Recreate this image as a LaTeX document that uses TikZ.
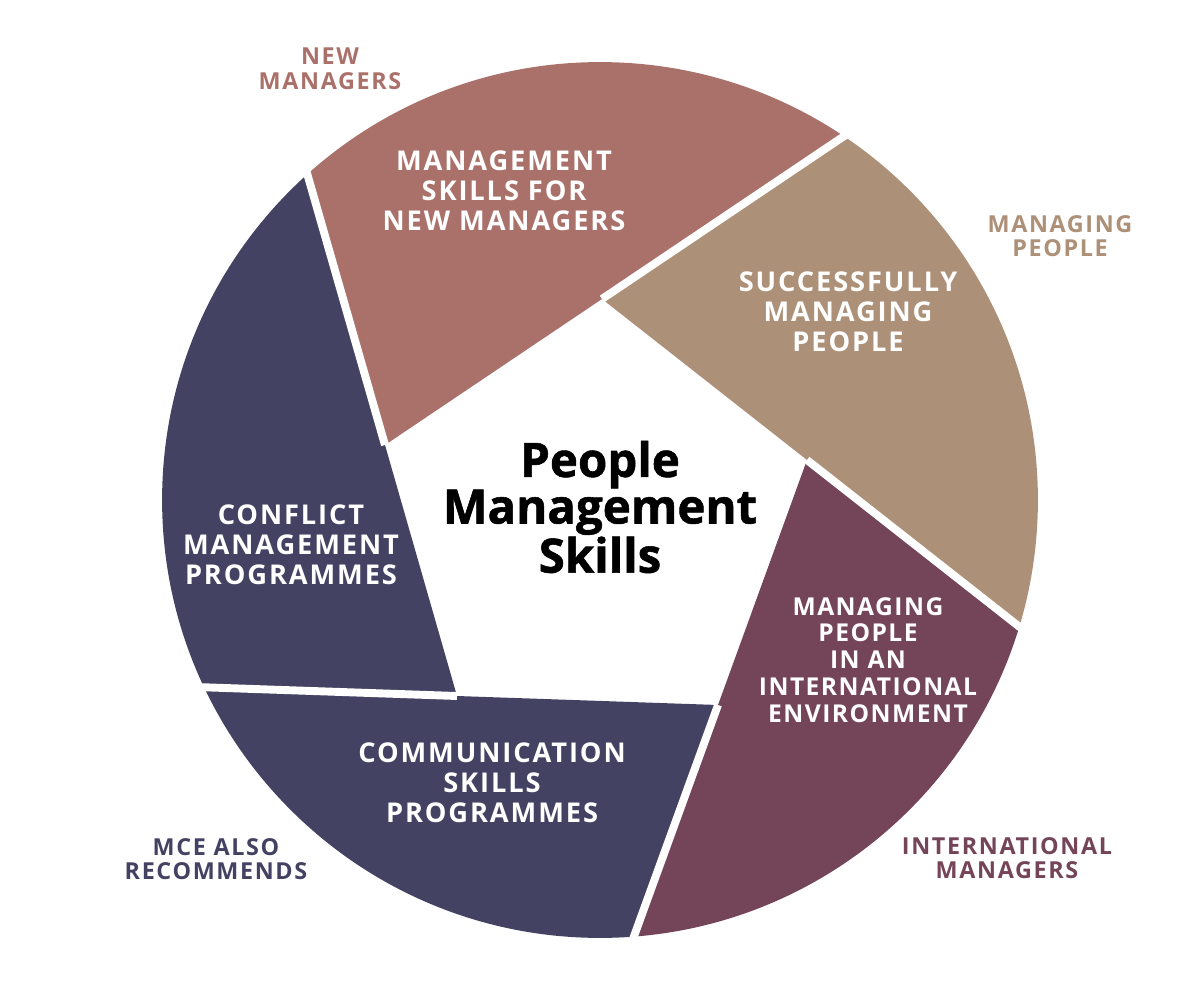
\documentclass[tikz,border=0pt]{standalone}
\usepackage{fontspec}
\setmainfont{Open Sans}
\usetikzlibrary{calc}

\definecolor{newmgr}{HTML}{AA716B}
\definecolor{mgpeople}{HTML}{AD9078}
\definecolor{intmgr}{HTML}{744459}
\definecolor{mcenavy}{HTML}{434262}

\begin{document}
\begin{tikzpicture}[x=0.02cm,y=-0.02cm,gap/.style={white, line width=4.5pt},segtext/.style={text=white, align=center, inner sep=0pt, font=\bfseries\fontsize{15.5}{17}\selectfont\addfontfeatures{LetterSpace=7}},sidelabel/.style={align=center, inner sep=0pt, font=\bfseries\fontsize{13.3}{14}\selectfont\addfontfeatures{LetterSpace=7}},title/.style={align=center, inner sep=0pt, font=\bfseries\fontsize{27}{26.5}\selectfont\addfontfeatures{FakeBold=1.2}}]
\useasboundingbox (0,0) rectangle (1200,1000);
\coordinate (O) at (600,500);
\coordinate (A) at (385,445); \coordinate (B) at (602,299); \coordinate (C) at (807,460); \coordinate (D) at (718,705); \coordinate (E) at (457,696);
% ring segments, each one a wedge at a corner of the pentagon
\begin{scope}
\clip (O) circle [radius=8.76cm];
\fill[newmgr] (A) -- ($(A)!-6!(E)$) -- ($(A)!6!(B)$) -- cycle;
\fill[mgpeople] (B) -- ($(B)!-6!(A)$) -- ($(B)!6!(C)$) -- cycle;
\fill[intmgr] (C) -- ($(C)!-6!(B)$) -- ($(C)!6!(D)$) -- cycle;
\fill[mcenavy] (D) -- ($(D)!-6!(C)$) -- ($(D)!6!(E)$) -- cycle;
\fill[mcenavy] (E) -- ($(E)!-6!(D)$) -- ($(E)!6!(A)$) -- cycle;
\end{scope}
\draw[gap] (A) -- ($(A)!-3!(E)$); \draw[gap] (B) -- ($(B)!-3!(A)$); \draw[gap] (C) -- ($(C)!-3!(B)$);
\draw[gap] (D) -- ($(D)!-3!(C)$); \draw[gap] (E) -- ($(E)!-3!(D)$);
\node[title] (hub) at (600,507) {People\\Management\\Skills};
\node[segtext] (newtxt) at (504,191) {MANAGEMENT\\SKILLS FOR\\NEW MANAGERS};
\node[segtext] (peopletxt) at (848,312) {SUCCESSFULLY\\MANAGING\\PEOPLE};
\node[segtext, font=\bfseries\fontsize{14}{15.3}\selectfont\addfontfeatures{LetterSpace=6}] (inttxt) at (868,660) {MANAGING\\PEOPLE\\IN AN\\INTERNATIONAL\\ENVIRONMENT};
\node[segtext] (conflicttxt) at (291,545) {CONFLICT\\MANAGEMENT\\PROGRAMMES};
\node[segtext] (commtxt) at (492,783) {COMMUNICATION\\SKILLS\\PROGRAMMES};
\node[sidelabel, text=newmgr] (newlbl) at (330,69) {NEW\\MANAGERS};
\node[sidelabel, text=mgpeople] (peoplelbl) at (1060,236) {MANAGING\\PEOPLE};
\node[sidelabel, text=intmgr] (intlbl) at (1007,858) {INTERNATIONAL\\MANAGERS};
\node[sidelabel, text=mcenavy] (mcelbl) at (216,859) {MCE ALSO\\RECOMMENDS};
\end{tikzpicture}
\end{document}
